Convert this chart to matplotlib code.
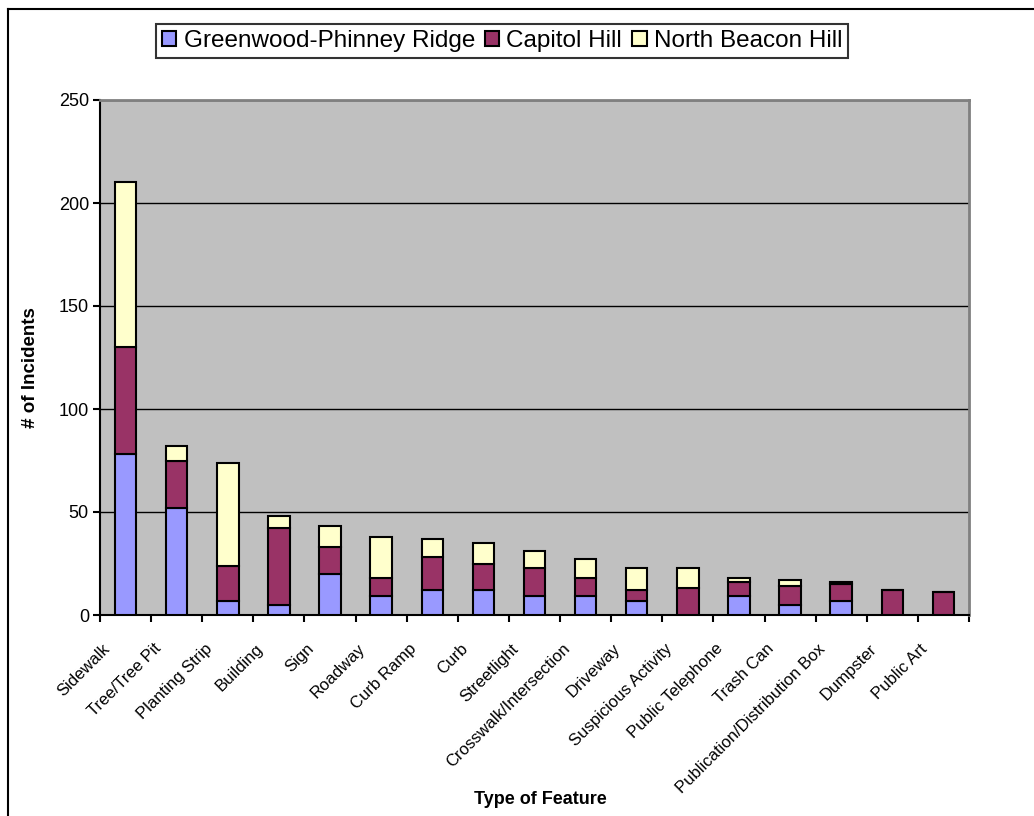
import matplotlib
matplotlib.use('Agg')
import matplotlib.pyplot as plt
import matplotlib.transforms as mtransforms
from matplotlib.lines import Line2D
import numpy as np

# incidents by type of feature, per neighbourhood
features = ['Sidewalk', 'Tree/Tree Pit', 'Planting Strip', 'Building', 'Sign',
            'Roadway', 'Curb Ramp', 'Curb', 'Streetlight', 'Crosswalk/Intersection',
            'Driveway', 'Suspicious Activity', 'Public Telephone', 'Trash Can',
            'Publication/Distribution Box', 'Dumpster', 'Public Art']
greenwood = [78, 52, 7, 5, 20, 9, 12, 12, 9, 9, 7, 0, 9, 5, 7, 0, 0]
capitol = [52, 23, 17, 37, 13, 9, 16, 13, 14, 9, 5, 13, 7, 9, 8, 12, 11]
beacon = [80, 7, 50, 6, 10, 20, 9, 10, 8, 9, 11, 10, 2, 3, 1, 0, 0]
series_names = ['Greenwood-Phinney Ridge', 'Capitol Hill', 'North Beacon Hill']
yticks = [0, 50, 100, 150, 200, 250]

plt.rcParams['font.family'] = ['Liberation Sans', 'DejaVu Sans']

W, H = 1034, 816
fig = plt.figure(figsize=(W / 100, H / 100), dpi=100)
ax = fig.add_axes([100 / W, (H - 615) / H, 869 / W, 515 / H])
ax.set_facecolor('#C0C0C0')

x = np.arange(len(features))
g = np.array(greenwood)
c = np.array(capitol)
b = np.array(beacon)
bw = 0.42
ax.bar(x, g, bw, color='#9999FF', edgecolor='black', linewidth=1.5,
       label=series_names[0], zorder=3)
ax.bar(x, c, bw, bottom=g, color='#993366', edgecolor='black', linewidth=1.5,
       label=series_names[1], zorder=3)
ax.bar(x, b, bw, bottom=g + c, color='#FFFFCC', edgecolor='black', linewidth=1.5,
       label=series_names[2], zorder=3)

ax.set_xlim(-0.5, len(features) - 0.5)
ax.set_ylim(0, 250)
ax.set_yticks(yticks)
ax.yaxis.grid(True, color='black', linewidth=1.0, zorder=1)
ax.set_axisbelow(True)

# spines: black axes, grey frame on the other two sides
for s in ['left', 'bottom']:
    ax.spines[s].set_linewidth(1.5)
    ax.spines[s].set_color('black')
for s in ['top', 'right']:
    ax.spines[s].set_linewidth(2)
    ax.spines[s].set_color('#808080')

ax.tick_params(axis='y', direction='out', length=5, width=1.5, labelsize=13, pad=3)
ax.set_xticks(x)
ax.set_xticks(np.arange(len(features) + 1) - 0.5, minor=True)
ax.tick_params(axis='x', which='major', length=0, pad=0)
ax.tick_params(axis='x', which='minor', direction='out', length=5, width=1.5)
ax.set_xticklabels(features, rotation=45, ha='right', va='top',
                   fontsize=12, family=['Liberation Sans Narrow', 'Liberation Sans'])
shift = mtransforms.ScaledTranslation(-13 / 100, -26 / 100, fig.dpi_scale_trans)
for lab in ax.get_xticklabels():
    lab.set_transform(lab.get_transform() + shift)

ax.set_ylabel('# of Incidents', fontsize=13.5, fontweight='bold')
ax.yaxis.set_label_coords(-61 / 869, 0.48)
fig.text(540 / W, 1 - 800 / H, 'Type of Feature', fontsize=13, fontweight='bold',
         ha='center', va='center')

leg = fig.legend(loc='center', bbox_to_anchor=(502 / W, 1 - 41 / H), ncol=3,
                 fontsize=17.5, frameon=True, fancybox=False, shadow=False,
                 handlelength=0.6, handleheight=0.6, handletextpad=0.3,
                 columnspacing=0.4, borderpad=0.25, borderaxespad=0)
leg.get_frame().set_edgecolor('black')
leg.get_frame().set_linewidth(1.5)

# chart frame, left and top edges
fig.add_artist(Line2D([8 / W, 8 / W], [0, 1 - 9 / H], color='black', linewidth=1.5))
fig.add_artist(Line2D([8 / W, 1], [1 - 9 / H, 1 - 9 / H], color='black', linewidth=1.5))

fig.savefig('out.png', dpi=100)
